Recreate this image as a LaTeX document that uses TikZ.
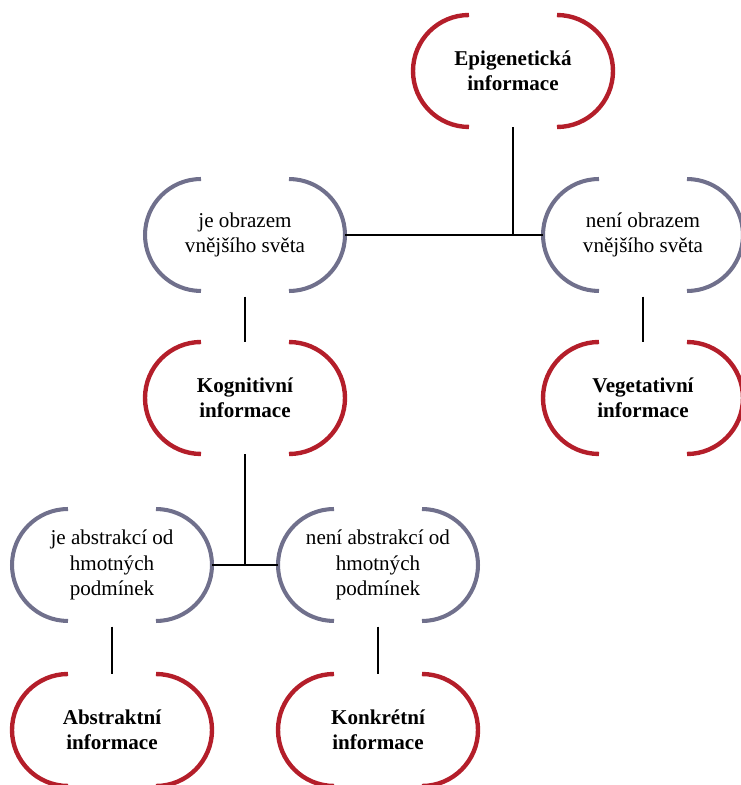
\documentclass[tikz,border=0pt]{standalone}
\usepackage{fontspec}
\setmainfont{Liberation Serif}
\usetikzlibrary{calc}
\definecolor{infored}{RGB}{180,30,42}
\definecolor{condgray}{RGB}{112,112,140}
\def\bracketpair[#1](#2){\draw[#1] ($(#2)+(-44,56)$) arc (90:270:1.12cm); \draw[#1] ($(#2)+(44,-56)$) arc (-90:90:1.12cm);}
\tikzset{
  box/.style={minimum width=4cm, minimum height=2.24cm, inner sep=0pt, align=center, font=\fontsize{12}{14.5}\selectfont},
  infobox/.style={box, font=\fontsize{12}{14.5}\selectfont\bfseries},
  link/.style={line width=0.8pt}
}

\begin{document}
\begin{tikzpicture}[x=0.02cm, y=0.02cm]
			%%%%% START %%%%%
			\useasboundingbox (0, 0) rectangle (741, 785);
			
			\node[infobox] (epi) at (513, 714) {Epigenetická\\informace};
			\node[box] (obraz) at (245, 550) {je obrazem\\vnějšího světa};
			\node[box] (neobraz) at (643, 550) {není obrazem\\vnějšího světa};
			
			\node[infobox] (kog) at (245, 387) {Kognitivní\\informace};
			\node[infobox] (veg) at (643, 387) {Vegetativní\\informace};
			
			\node[box] (abstr) at (112, 220) {je abstrakcí od\\hmotných\\podmínek};
			\node[box] (neabstr) at (378, 220) {není abstrakcí od\\hmotných\\podmínek};
			
			\node[infobox] (abs) at (112, 55) {Abstraktní\\informace};
			\node[infobox] (konk) at (378, 55) {Konkrétní\\informace};
			
			\bracketpair[line width=2.5pt, color=infored](epi)
			\bracketpair[line width=2.5pt, color=infored](kog)
			\bracketpair[line width=2.5pt, color=infored](veg)
			\bracketpair[line width=2.5pt, color=infored](abs)
			\bracketpair[line width=2.5pt, color=infored](konk)
			\bracketpair[line width=2.3pt, color=condgray](obraz)
			\bracketpair[line width=2.3pt, color=condgray](neobraz)
			\bracketpair[line width=2.3pt, color=condgray](abstr)
			\bracketpair[line width=2.3pt, color=condgray](neabstr)
			
			\draw[link] (obraz.east) -- (neobraz.west);
			\draw[link] (epi.south) -- (epi.south |- obraz.east);
			\draw[link] ([yshift=-3pt]obraz.south) -- (kog.north);
			\draw[link] ([yshift=-3pt]neobraz.south) -- (veg.north);
			
			\draw[link] (abstr.east) -- (neabstr.west);
			\draw[link] (kog.south) -- (kog.south |- abstr.east);
			\draw[link] ([yshift=-3pt]abstr.south) -- (abs.north);
			\draw[link] ([yshift=-3pt]neabstr.south) -- (konk.north);
			
			%%%%% END %%%%%
		\end{tikzpicture}
\end{document}
